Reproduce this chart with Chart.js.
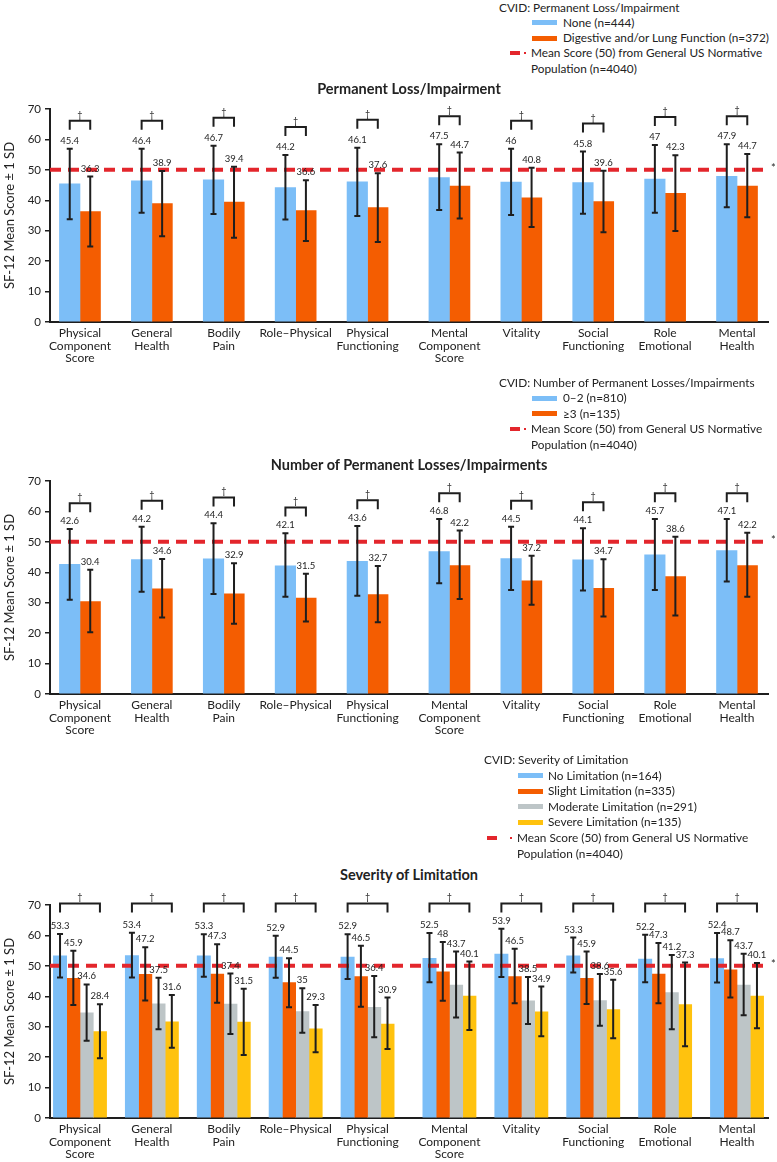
<!DOCTYPE html>
<html>
<head>
<meta charset="utf-8">
<script src="https://cdn.jsdelivr.net/npm/chart.js@4.4.1/dist/chart.umd.min.js"></script>
<style>
  body { margin: 0; background: #fff; }
  #page { position: relative; width: 777px; height: 1162px; overflow: hidden; font-family: Lato, "Open Sans", sans-serif; color: #222; }
  canvas { position: absolute; left: 0; }
  .lg { position: absolute; font-size: 11.8px; line-height: 16px; white-space: nowrap; }
  .sw { position: absolute; height: 5px; }
  .dash { position: absolute; background: #e3262c; }
  .title { position: absolute; left: 50px; width: 718px; text-align: center; font-weight: bold; font-size: 14.5px; line-height: 18px; }
</style>
</head>
<body>
<div id="page">
  <canvas id="c1" width="777" height="298" style="top:92px"></canvas>
  <canvas id="c2" width="777" height="290" style="top:470px"></canvas>
  <canvas id="c3" width="777" height="277" style="top:885px"></canvas>
</div>
<script>
// ---- shared ----
const categories = [
  ['Physical', 'Component', 'Score'], ['General', 'Health'], ['Bodily', 'Pain'], ['Role–Physical'],
  ['Physical', 'Functioning'], ['Mental', 'Component', 'Score'], ['Vitality'], ['Social', 'Functioning'],
  ['Role', 'Emotional'], ['Mental', 'Health']
];
const yMin = 0, yMax = 70, yStep = 10;
const normMean = 50;
const axisTitle = 'SF-12 Mean Score ± 1 SD';
const normLabel = ['Mean Score (50) from General US Normative', 'Population (n=4040)'];

// ---- panel 1: permanent loss/impairment ----
const lossNames = ['None (n=444)', 'Digestive and/or Lung Function (n=372)'];
const lossNone   = [45.4, 46.4, 46.7, 44.2, 46.1, 47.5, 46, 45.8, 47, 47.9];
const lossNoneLo = [33.8, 35.9, 35.5, 33.7, 34.8, 36.8, 35.2, 35.6, 35.9, 37.7];
const lossNoneHi = [56.9, 56.9, 57.9, 54.9, 57.3, 58.4, 56.9, 56.0, 58.2, 58.4];
const lossDig    = [36.3, 38.9, 39.4, 36.6, 37.6, 44.7, 40.8, 39.6, 42.3, 44.7];
const lossDigLo  = [24.8, 28.2, 27.7, 26.6, 26.3, 34.0, 31.2, 29.5, 29.9, 34.4];
const lossDigHi  = [47.8, 49.6, 51.0, 46.6, 48.9, 55.7, 50.7, 49.7, 54.8, 55.2];

// ---- panel 2: number of permanent losses/impairments ----
const countNames = ['0–2 (n=810)', '≥3 (n=135)'];
const countLow    = [42.6, 44.2, 44.4, 42.1, 43.6, 46.8, 44.5, 44.1, 45.7, 47.1];
const countLowLo  = [31.0, 33.6, 32.9, 32.0, 32.3, 36.4, 34.2, 34.0, 34.2, 37.0];
const countLowHi  = [54.2, 55.0, 56.1, 52.8, 55.2, 57.5, 55.0, 54.5, 57.5, 57.5];
const countHigh   = [30.4, 34.6, 32.9, 31.5, 32.7, 42.2, 37.2, 34.7, 38.6, 42.2];
const countHighLo = [20.3, 25.1, 23.1, 23.8, 23.6, 31.2, 29.3, 25.5, 25.8, 32.0];
const countHighHi = [40.8, 44.4, 43.0, 39.5, 42.1, 53.7, 45.4, 44.3, 51.7, 53.0];

// ---- panel 3: severity of limitation ----
const sevNames = ['No Limitation (n=164)', 'Slight Limitation (n=335)', 'Moderate Limitation (n=291)', 'Severe Limitation (n=135)'];
const sevNone     = [53.3, 53.4, 53.3, 52.9, 52.9, 52.5, 53.9, 53.3, 52.2, 52.4];
const sevNoneLo   = [46.2, 46.2, 46.4, 46.1, 45.7, 44.6, 46.3, 47.8, 44.6, 44.5];
const sevNoneHi   = [60.5, 60.9, 60.4, 59.9, 60.4, 60.8, 62.2, 59.3, 60.2, 60.8];
const sevSlight   = [45.9, 47.2, 47.3, 44.5, 46.5, 48, 46.5, 45.9, 47.3, 48.7];
const sevSlightLo = [37.1, 38.6, 37.9, 36.4, 36.6, 38.5, 37.7, 37.5, 37.7, 39.6];
const sevSlightHi = [55.0, 56.1, 57.1, 52.5, 56.6, 57.8, 55.6, 54.7, 57.5, 58.4];
const sevMod      = [34.6, 37.5, 37.4, 35, 36.4, 43.7, 38.5, 38.6, 41.2, 43.7];
const sevModLo    = [25.4, 29.2, 27.6, 28.0, 26.5, 33.0, 30.9, 30.3, 29.2, 33.8];
const sevModHi    = [43.9, 46.1, 47.5, 42.6, 46.7, 54.7, 46.3, 47.3, 53.6, 54.0];
const sevSevere   = [28.4, 31.6, 31.5, 29.3, 30.9, 40.1, 34.9, 35.6, 37.3, 40.1];
const sevSevereLo = [19.6, 23.1, 20.7, 21.6, 22.7, 28.9, 26.9, 26.2, 23.6, 29.5];
const sevSevereHi = [37.4, 40.4, 42.5, 37.1, 39.6, 51.4, 43.2, 45.4, 51.1, 50.9];

const BLUE = '#7cbef7', ORANGE = '#f45d01', GRAY = '#bdc5c7', YELLOW = '#ffc20e';
const RED = '#e3262c', INK = '#1e1e1e';
const FONT = 'Lato, "Open Sans", sans-serif';

// category centres: a little extra room between the physical and mental blocks
const xPos = categories.map((c, i) => i + (i >= 5 ? 0.139 : 0));

// error bars, value labels, brackets, reference line
function overlay(series, opt) {
  return {
    id: 'overlay',
    afterDatasetsDraw(chart) {
      const ctx = chart.ctx;
      const y = chart.scales.y;
      const area = chart.chartArea;
      ctx.save();

      // normative mean line
      const yn = y.getPixelForValue(normMean);
      ctx.strokeStyle = RED;
      ctx.lineWidth = 4;
      ctx.setLineDash([11, 7]);
      ctx.beginPath();
      ctx.moveTo(area.left, yn);
      ctx.lineTo(area.right, yn);
      ctx.stroke();
      ctx.setLineDash([]);
      ctx.fillStyle = INK;
      ctx.font = '11px ' + FONT;
      ctx.textAlign = 'left';
      ctx.textBaseline = 'middle';
      ctx.fillText('*', area.right + 3, yn - 1);

      // whiskers + labels
      ctx.strokeStyle = INK;
      ctx.lineWidth = 2;
      series.forEach((s, d) => {
        const meta = chart.getDatasetMeta(d);
        meta.data.forEach((bar, i) => {
          const x = bar.x;
          const yh = y.getPixelForValue(s.hi[i]);
          const yl = y.getPixelForValue(s.lo[i]);
          ctx.beginPath();
          ctx.moveTo(x, yh); ctx.lineTo(x, yl);
          ctx.moveTo(x - 3, yh); ctx.lineTo(x + 3, yh);
          ctx.moveTo(x - 3, yl); ctx.lineTo(x + 3, yl);
          ctx.stroke();
          ctx.font = '9.5px ' + FONT;
          ctx.textAlign = 'center';
          ctx.fillText(String(s.mean[i]), x, yh - 8);
        });
      });

      // significance brackets
      const first = chart.getDatasetMeta(0).data;
      const last = chart.getDatasetMeta(series.length - 1).data;
      categories.forEach((c, i) => {
        const top = opt.bracketAt != null
          ? opt.bracketAt
          : Math.max(...series.map(s => s.hi[i])) + opt.bracketGap;
        const yb = y.getPixelForValue(top);
        const x1 = first[i].x, x2 = last[i].x;
        ctx.beginPath();
        ctx.moveTo(x1, yb + 9); ctx.lineTo(x1, yb); ctx.lineTo(x2, yb); ctx.lineTo(x2, yb + 9);
        ctx.stroke();
        ctx.font = '9px ' + FONT;
        ctx.fillText('†', (x1 + x2) / 2, yb - 6);
      });
      ctx.restore();
    }
  };
}

function buildChart(id, series, opt) {
  const datasets = series.map(s => ({
    label: s.label,
    data: s.mean.map((v, i) => ({ x: xPos[i], y: v })),
    backgroundColor: s.color,
    borderWidth: 0,
    barThickness: opt.barW
  }));
  return new Chart(document.getElementById(id), {
    type: 'bar',
    data: { datasets },
    options: {
      responsive: false,
      animation: false,
      devicePixelRatio: 1,
      layout: { padding: { top: opt.padTop, right: 9, left: 0, bottom: 0 } },
      plugins: { legend: { display: false }, tooltip: { enabled: false } },
      scales: {
        x: {
          type: 'linear',
          offset: false,
          min: -0.417,
          max: 9.57,
          afterBuildTicks: scale => { scale.ticks = xPos.map(v => ({ value: v })); },
          afterFit: scale => { scale.height = opt.xAxisH; },
          grid: { display: false, drawTicks: false, tickLength: 0 },
          border: { display: true, color: INK, width: 2 },
          ticks: {
            autoSkip: false, maxRotation: 0, minRotation: 0, padding: 5,
            color: '#222',
            font: { family: FONT, size: 12, lineHeight: 1.05 },
            callback: (v, i) => categories[i]
          }
        },
        y: {
          min: yMin, max: yMax,
          afterFit: scale => { scale.width = 50; },
          grid: { drawOnChartArea: false, drawTicks: true, tickLength: 5, color: INK, lineWidth: 1.5 },
          border: { display: true, color: INK, width: 2 },
          ticks: { stepSize: yStep, padding: 4, color: '#222', font: { family: FONT, size: 11.5 } },
          title: { display: true, text: axisTitle, color: '#222', padding: { top: 2, bottom: 0 }, font: { family: FONT, size: 13 } }
        }
      }
    },
    plugins: [overlay(series, opt)]
  });
}

buildChart('c1', [
  { label: lossNames[0], mean: lossNone, lo: lossNoneLo, hi: lossNoneHi, color: BLUE },
  { label: lossNames[1], mean: lossDig, lo: lossDigLo, hi: lossDigHi, color: ORANGE }
], { barW: 20.5, padTop: 17, xAxisH: 68, bracketGap: 9.2 });

buildChart('c2', [
  { label: countNames[0], mean: countLow, lo: countLowLo, hi: countLowHi, color: BLUE },
  { label: countNames[1], mean: countHigh, lo: countHighLo, hi: countHighHi, color: ORANGE }
], { barW: 20.5, padTop: 11, xAxisH: 66, bracketGap: 8.5 });

buildChart('c3', [
  { label: sevNames[0], mean: sevNone, lo: sevNoneLo, hi: sevNoneHi, color: BLUE },
  { label: sevNames[1], mean: sevSlight, lo: sevSlightLo, hi: sevSlightHi, color: ORANGE },
  { label: sevNames[2], mean: sevMod, lo: sevModLo, hi: sevModHi, color: GRAY },
  { label: sevNames[3], mean: sevSevere, lo: sevSevereLo, hi: sevSevereHi, color: YELLOW }
], { barW: 13.3, padTop: 20, xAxisH: 44, bracketAt: 70.5 });

// ---- legends and panel titles (HTML text) ----
const page = document.getElementById('page');
function add(cls, css, text) {
  const el = document.createElement('div');
  el.className = cls;
  el.style.cssText = css;
  if (text) el.textContent = text;
  page.appendChild(el);
}
function legend(head, names, colors, g) {
  let yc = g.y0;
  add('lg', `left:${g.headX}px;top:${yc - 8}px`, head);
  names.forEach((n, k) => {
    yc += g.step;
    add('sw', `left:${g.swX}px;top:${yc - 2.5}px;width:${g.swW}px;background:${colors[k]}`);
    add('lg', `left:${g.textX}px;top:${yc - 8}px`, n);
  });
  yc += g.step;
  add('dash', `left:${g.dashX}px;top:${yc - 2}px;width:10px;height:4px`);
  add('dash', `left:${g.dotX}px;top:${yc - 1}px;width:2px;height:2px`);
  add('lg', `left:${g.meanX}px;top:${yc - 8}px`, normLabel[0]);
  add('lg', `left:${g.meanX}px;top:${yc + g.step - 8}px`, normLabel[1]);
}
function title(text, yc) { add('title', `top:${yc - 9}px`, text); }

legend('CVID: Permanent Loss/Impairment', lossNames, [BLUE, ORANGE],
  { y0: 7.5, step: 15.3, headX: 499, swX: 532, swW: 25, textX: 563, dashX: 510, dotX: 524, meanX: 531 });
title('Permanent Loss/Impairment', 89);

legend('CVID: Number of Permanent Losses/Impairments', countNames, [BLUE, ORANGE],
  { y0: 383, step: 15.4, headX: 499, swX: 532, swW: 25, textX: 563, dashX: 510, dotX: 524, meanX: 531 });
title('Number of Permanent Losses/Impairments', 465);

legend('CVID: Severity of Limitation', sevNames, [BLUE, ORANGE, GRAY, YELLOW],
  { y0: 760, step: 15.6, headX: 484, swX: 518, swW: 25, textX: 548, dashX: 487, dotX: 510, meanX: 517 });
title('Severity of Limitation', 875);
</script>
</body>
</html>
